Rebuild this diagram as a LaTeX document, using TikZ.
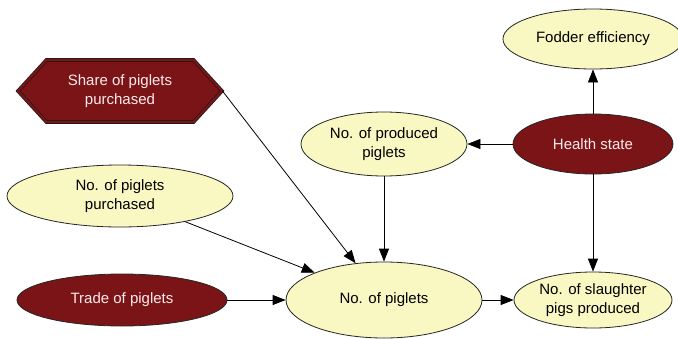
\documentclass[tikz,border=0pt]{standalone}
\usepackage{fontspec}
\setmainfont{Liberation Sans}
\usetikzlibrary{shapes.geometric,shapes.symbols,arrows.meta}
\definecolor{darkred}{HTML}{7B1416}
\definecolor{paleyel}{HTML}{F9F7C2}
\tikzset{
  yel/.style={ellipse, draw=black!85, line width=0.8pt, fill=paleyel, inner sep=0pt, align=center, text=black},
  red/.style={ellipse, draw=black!85, line width=0.8pt, fill=darkred, inner sep=0pt, align=center, text=white!92!red},
  conn/.style={line width=0.8pt, -{Triangle[length=13pt,width=10pt]}},
}
\begin{document}
\begin{tikzpicture}[x=1pt,y=-1pt, font=\fontsize{15}{19}\selectfont]
\useasboundingbox (0,0) rectangle (678,338);
\node[yel, minimum width=180, minimum height=60] (fodder) at (593,39) {Fodder efficiency};
\node[red, minimum width=160, minimum height=60] (health) at (593,144) {Health state};
\node[yel, minimum width=166, minimum height=64] (produced) at (384,144) {No. of produced\\piglets};
\node[yel, minimum width=226, minimum height=62] (purchased) at (120,196) {No. of piglets\\purchased};
\node[red, minimum width=210, minimum height=52] (trade) at (122,300) {Trade of piglets};
\node[yel, minimum width=196, minimum height=76] (piglets) at (384,300) {No. of piglets};
\node[yel, minimum width=158, minimum height=56] (slaughter) at (593,300) {No. of slaughter\\pigs produced};
\node[signal, signal to=east and west, signal pointer angle=95, minimum width=204, minimum height=62, inner sep=0pt,
      fill=darkred, draw=black!90, double=darkred, double distance=2.2pt, line width=0.7pt, align=center, text=white!92!red] (share) at (120,91) {Share of piglets\\purchased};
\draw[conn] (health) -- (fodder);
\draw[conn] (health) -- (produced);
\draw[conn] (health) -- (slaughter);
\draw[conn] (produced) -- (piglets);
\draw[conn] (share.east) -- (piglets);
\draw[conn] (purchased) -- (piglets);
\draw[conn] (trade) -- (piglets);
\draw[conn] (piglets) -- (slaughter);
\end{tikzpicture}
\end{document}
